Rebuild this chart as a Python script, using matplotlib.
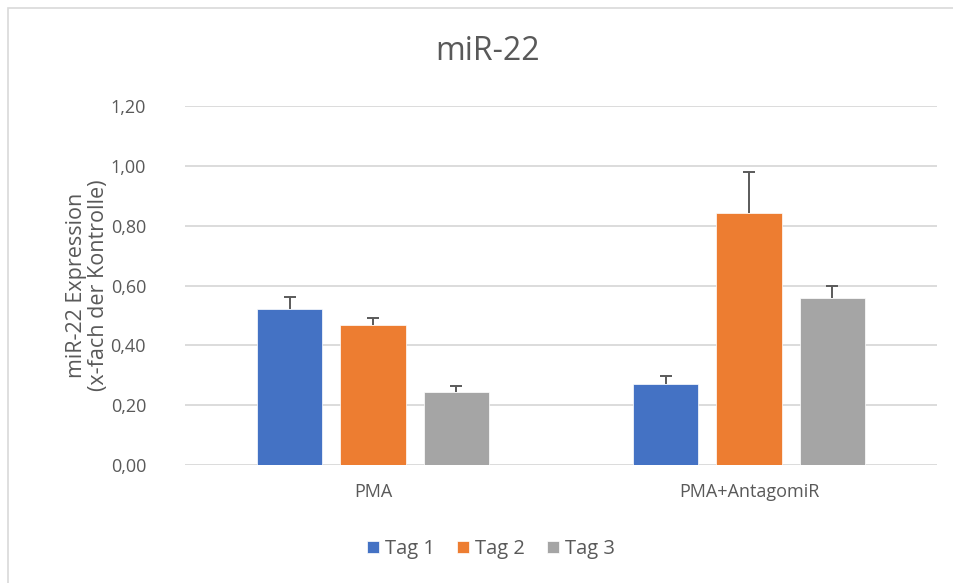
import numpy as np
import matplotlib.pyplot as plt
from matplotlib.patches import Rectangle

plt.rcParams['font.family'] = ['Open Sans', 'DejaVu Sans']

categories = ['PMA', 'PMA+AntagomiR']
series = ['Tag 1', 'Tag 2', 'Tag 3']
values = {
    'Tag 1': [0.521, 0.271],
    'Tag 2': [0.468, 0.842],
    'Tag 3': [0.244, 0.558],
}
errors = {
    'Tag 1': [0.040, 0.027],
    'Tag 2': [0.023, 0.137],
    'Tag 3': [0.020, 0.040],
}
colors = ['#4472C4', '#ED7D31', '#A5A5A5']
yticks = [0.0, 0.2, 0.4, 0.6, 0.8, 1.0, 1.2]

txt = '#595959'
fig = plt.figure(figsize=(9.54, 5.83), dpi=100)
ax = fig.add_axes([185 / 954, 1 - 465 / 583, 752 / 954, 359 / 583])

x = np.arange(len(categories))
w = 0.175
step = 0.222
for i, s in enumerate(series):
    pos = x + (i - 1) * step
    v = np.array(values[s])
    top = v + np.array(errors[s])
    ax.bar(pos, v, width=w, color=colors[i], edgecolor='white', linewidth=0.5,
           label=s, zorder=3)
    # nur obere Fehlerbalken, wie in Excel
    ax.vlines(pos, v, top, color='#5a5a5a', linewidth=1.4, zorder=4)
    ax.plot(pos, top, linestyle='none', marker='_', markersize=9, markeredgewidth=1.4,
            color='#5a5a5a', zorder=4)

ax.set_xlim(-0.5, 1.5)
ax.set_ylim(0, 1.2)
ax.set_yticks(yticks)
ax.set_yticklabels([f'{t:.2f}'.replace('.', ',') for t in yticks])
ax.set_xticks(x)
ax.set_xticklabels(categories)
ax.grid(axis='y', color='#d9d9d9', linewidth=1.3, zorder=0)
for sp in ax.spines.values():
    sp.set_visible(False)
ax.tick_params(axis='both', length=0, labelsize=13, colors=txt)
ax.tick_params(axis='y', pad=28)
ax.tick_params(axis='x', pad=13)

ax.set_ylabel('miR-22 Expression\n(x-fach der Kontrolle)', fontsize=15.5, color=txt, labelpad=1,
              linespacing=1.05)
fig.text(488 / 954, 1 - 52 / 583, 'miR-22', ha='center', va='center', fontsize=23, color=txt)

ax.legend(loc='center', bbox_to_anchor=(491 / 954, 1 - 549 / 583), bbox_transform=fig.transFigure,
          ncol=3, frameon=False, fontsize=14.5, labelcolor=txt, handlelength=0.6, handleheight=0.6,
          handletextpad=0.3, columnspacing=1.1)

fig.patches.append(Rectangle((8 / 954, -0.1), 1.1, 1 - 8 / 583 + 0.1, transform=fig.transFigure,
                             fill=False, edgecolor='#d9d9d9', linewidth=1.2))

fig.savefig('out.png', dpi=100)
